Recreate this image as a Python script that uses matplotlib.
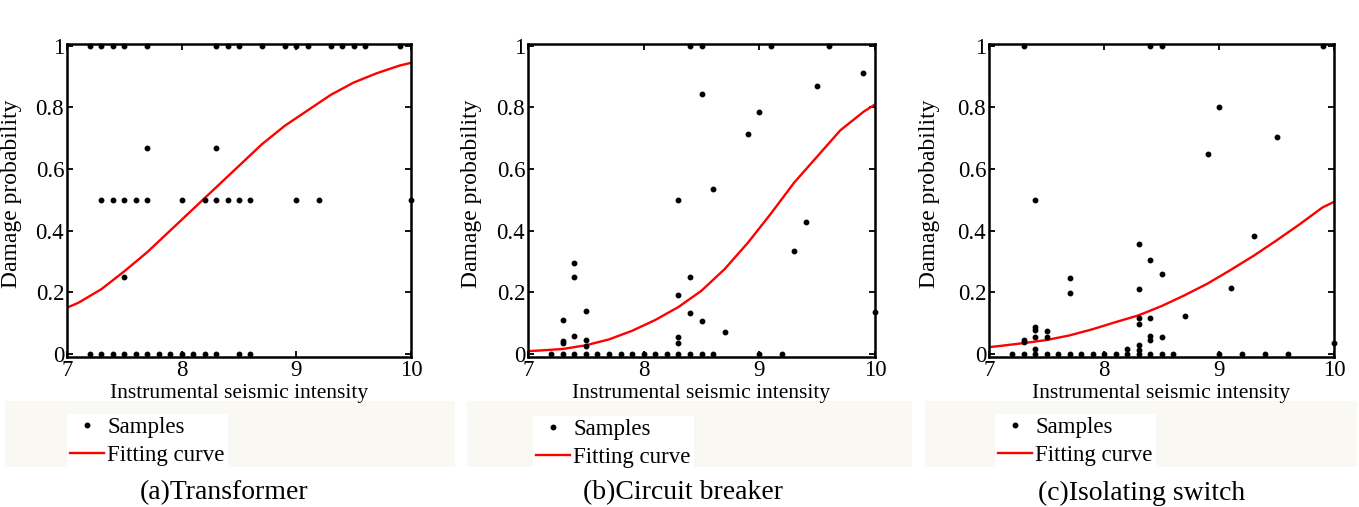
import matplotlib.pyplot as plt
from matplotlib.patches import Rectangle

plt.rcParams['font.family'] = ['Liberation Serif', 'DejaVu Serif']

W, H = 1359, 507

# (a) Transformer samples
trans_x = [7.2, 7.3, 7.4, 7.5, 7.7, 8.3, 8.4, 8.5, 8.7, 8.9, 9.0, 9.1, 9.3, 9.4, 9.5, 9.6, 9.9,
           7.3, 7.4, 7.5, 7.6, 7.7, 8.0, 8.2, 8.3, 8.4, 8.5, 8.6, 9.0, 9.2, 10.0,
           7.7, 8.3, 7.5,
           7.2, 7.3, 7.4, 7.5, 7.6, 7.7, 7.8, 7.9, 8.0, 8.1, 8.2, 8.3, 8.5, 8.6]
trans_y = [1] * 17 + [0.5] * 14 + [0.667, 0.667, 0.25] + [0] * 14

# (b) Circuit breaker samples
breaker_x = [8.4, 8.5, 9.1, 9.6, 9.9, 9.5, 8.5, 9.0, 8.9, 8.6, 8.3, 9.4, 9.3,
             7.4, 7.4, 8.4, 8.3, 7.5, 8.4, 7.3, 8.5, 8.7, 7.4, 8.3, 7.5, 7.3, 7.3, 8.3, 7.5, 10.0,
             7.2, 7.3, 7.4, 7.5, 7.6, 7.7, 7.8, 7.9, 8.0, 8.1, 8.2, 8.3, 8.4, 8.5, 8.6, 9.0, 9.2]
breaker_y = [1, 1, 1, 1, 0.91, 0.87, 0.844, 0.784, 0.714, 0.536, 0.5, 0.429, 0.333,
             0.294, 0.248, 0.248, 0.192, 0.138, 0.132, 0.110, 0.107, 0.070, 0.058, 0.055,
             0.046, 0.042, 0.036, 0.036, 0.025, 0.135] + [0] * 17

# (c) Isolating switch samples
switch_x = [7.3, 8.4, 8.5, 9.9, 9.0, 9.5, 8.9, 7.4, 9.3, 8.3, 8.4, 8.5, 7.7, 9.1, 8.3, 7.7, 8.7,
            8.3, 8.4, 8.3, 7.4, 7.4, 7.5, 7.4, 7.5, 8.4, 8.5, 8.4, 7.3, 7.3, 10.0, 8.3, 7.4, 8.2, 8.3,
            7.2, 7.3, 7.4, 7.5, 7.6, 7.7, 7.8, 7.9, 8.0, 8.1, 8.2, 8.3, 8.4, 8.5, 8.6,
            9.0, 9.2, 9.4, 9.6]
switch_y = [1, 1, 1, 1, 0.8, 0.705, 0.648, 0.5, 0.382, 0.355, 0.305, 0.26, 0.247, 0.215, 0.21,
            0.198, 0.124, 0.118, 0.118, 0.096, 0.088, 0.078, 0.075, 0.056, 0.054, 0.057, 0.056,
            0.045, 0.045, 0.038, 0.037, 0.03, 0.016, 0.015, 0.012] + [0] * 19

# fitting curves
curve_x = [7.0, 7.1, 7.3, 7.5, 7.7, 7.9, 8.1, 8.3, 8.5, 8.7, 8.9, 9.1, 9.3, 9.5, 9.7, 9.9, 10.0]
trans_fit = [0.15, 0.166, 0.21, 0.268, 0.33, 0.40, 0.47, 0.54, 0.61, 0.68, 0.74, 0.79,
             0.84, 0.88, 0.91, 0.935, 0.944]
breaker_fit = [0.009, 0.011, 0.016, 0.028, 0.047, 0.075, 0.11, 0.152, 0.205, 0.275, 0.36,
               0.455, 0.555, 0.64, 0.725, 0.785, 0.809]
switch_fit = [0.022, 0.026, 0.035, 0.045, 0.06, 0.08, 0.103, 0.125, 0.155, 0.19, 0.228,
              0.272, 0.318, 0.368, 0.42, 0.475, 0.493]

captions = ['(a)Transformer', '(b)Circuit breaker', '(c)Isolating switch']
panels = [(trans_x, trans_y, trans_fit), (breaker_x, breaker_y, breaker_fit),
          (switch_x, switch_y, switch_fit)]

# pixel layout: axes box, beige legend strip, legend anchor, caption centre, ylabel x
boxes = [(67, 44, 411, 357), (528, 44, 875, 357), (989, 44, 1334, 357)]
strips = [(5, 401, 455, 467), (467, 401, 912, 467), (925, 401, 1357, 467)]
leg_pos = [(67, 414), (533, 416), (995, 414)]
cap_x = [224, 683, 1142]
ylab_x = [22, 482, 940]

fig = plt.figure(figsize=(W / 100, H / 100), dpi=100)

for sl, st, sr, sb in strips:
    fig.patches.append(Rectangle((sl / W, 1 - sb / H), (sr - sl) / W, (sb - st) / H,
                                 transform=fig.transFigure, facecolor='#faf8f3',
                                 edgecolor='none', zorder=-5))

for i, (xs, ys, fit) in enumerate(panels):
    l, t, r, b = boxes[i]
    ax = fig.add_axes([l / W, 1 - b / H, (r - l) / W, (b - t) / H])
    ax.patch.set_alpha(0)

    pts, = ax.plot(xs, ys, 'o', color='black', markersize=3.2, clip_on=False,
                   linestyle='none', label='Samples', zorder=3)
    line, = ax.plot(curve_x, fit, color='red', linewidth=1.7, label='Fitting curve', zorder=2)

    ax.set_xlim(7, 10)
    ax.set_ylim(-0.01, 1.005)
    ax.set_xticks([7, 8, 9, 10])
    ax.set_xticklabels(['7', '8', '9', '10'])
    ax.set_yticks([0, 0.2, 0.4, 0.6, 0.8, 1])
    ax.set_yticklabels(['0', '0.2', '0.4', '0.6', '0.8', '1'])
    ax.tick_params(direction='in', top=True, right=True, length=4, width=1.3,
                   labelsize=16.5, pad=2)
    for s in ax.spines.values():
        s.set_linewidth(1.8)

    ax.set_xlabel('Instrumental seismic intensity', fontsize=15.5, labelpad=2)
    ax.set_ylabel('Damage probability', fontsize=17)
    ax.yaxis.set_label_coords(ylab_x[i] / W, 1 - 194 / H, transform=fig.transFigure)

    lx, ly = leg_pos[i]
    leg = ax.legend(handles=[pts, line], loc='upper left',
                    bbox_to_anchor=(lx / W, 1 - ly / H), bbox_transform=fig.transFigure,
                    fontsize=16.5, frameon=True, fancybox=False, handlelength=1.45,
                    handletextpad=0.15, labelspacing=0.3, borderpad=0.15,
                    borderaxespad=0, markerscale=1.0)
    leg.get_frame().set_facecolor('white')
    leg.get_frame().set_edgecolor('none')
    leg.get_frame().set_alpha(1)

    fig.text(cap_x[i] / W, 1 - 493 / H, captions[i], ha='center', va='center', fontsize=20)

fig.savefig('out.png', dpi=100, facecolor='white')
